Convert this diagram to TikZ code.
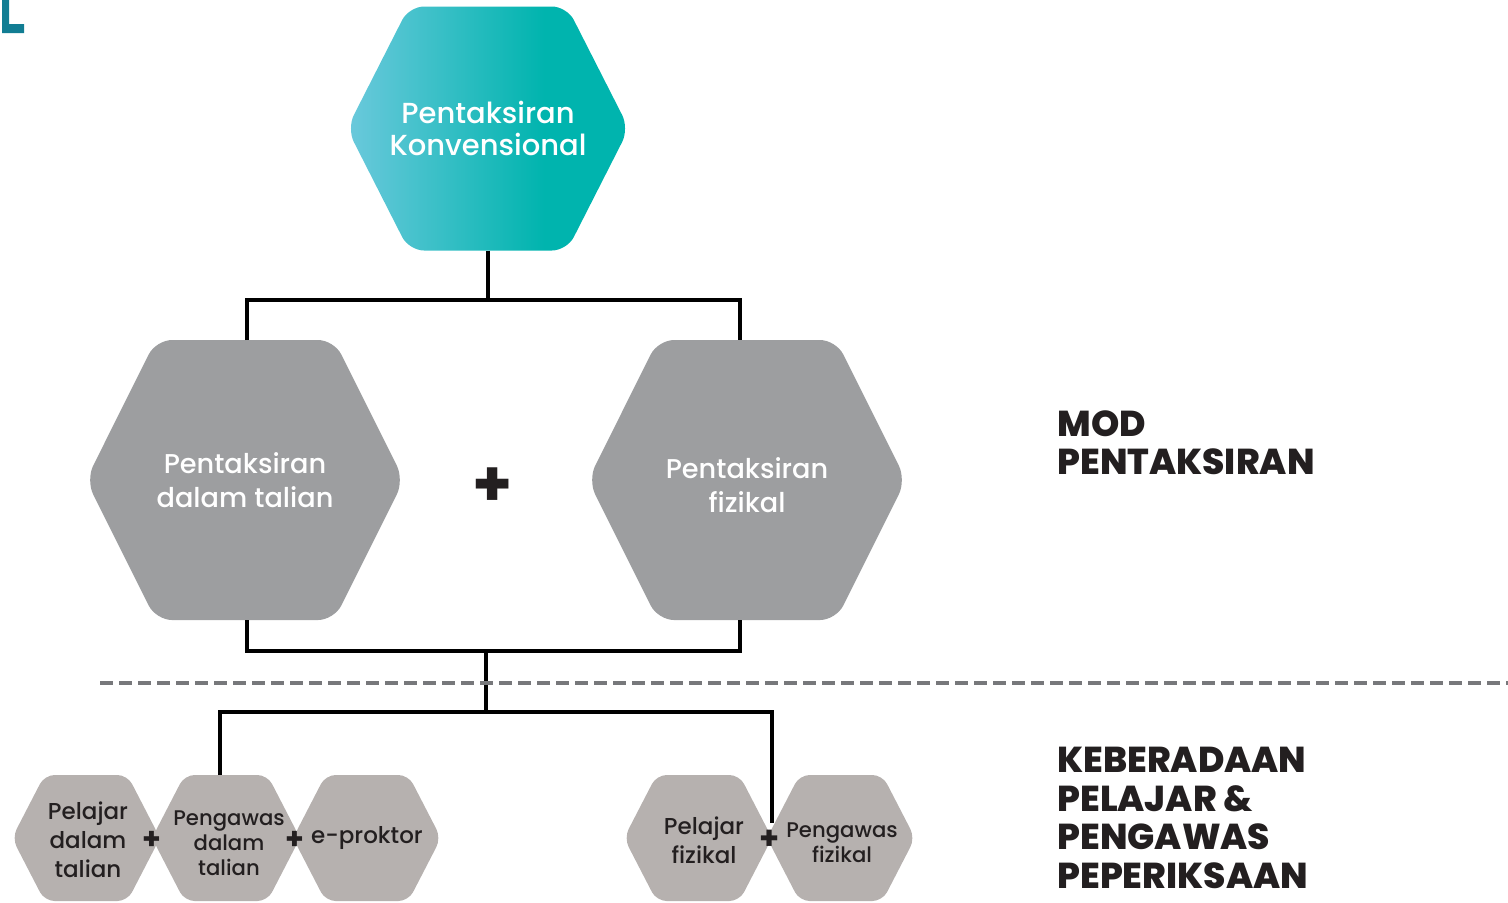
\documentclass[tikz,border=0pt]{standalone}
\usepackage{fontspec}
\setmainfont{Poppins}
\IfFontExistsTF{Poppins Medium}
  {\newfontfamily\hexfont{Poppins Medium}}
  {\newfontfamily\hexfont{Poppins}[FakeBold=0.4]}
\IfFontExistsTF{Poppins ExtraBold}
  {\newfontfamily\headfont{Poppins ExtraBold}}
  {\newfontfamily\headfont{Poppins}[UprightFont=*, BoldFont=*, FakeBold=1.2]}
\usetikzlibrary{calc}

\definecolor{tealA}{HTML}{6BC9DC}
\definecolor{tealB}{HTML}{00B4AE}
\definecolor{hexgray}{HTML}{9D9EA0}
\definecolor{hexwarm}{HTML}{B6B1AF}
\definecolor{ink}{HTML}{231F20}
\definecolor{dashgray}{HTML}{77787B}
\definecolor{marker}{HTML}{117D93}

\pgfdeclarehorizontalshading{tealfade}{100bp}{color(0bp)=(tealA); color(25bp)=(tealA); color(60bp)=(tealB); color(100bp)=(tealB)}

% hexagon with flat top and bottom: a named shape node and a named text node
% #1 name, #2 cx, #3 cy, #4 half width, #5 half height, #6 fill options, #7 text options, #8 text
\newcommand\hexcell[8]{%
  \path[#6] ({#2},{#3-#5}) -- ({#2-0.56*#4},{#3-#5}) -- ({#2-#4},{#3})
    -- ({#2-0.56*#4},{#3+#5}) -- ({#2+0.56*#4},{#3+#5}) -- ({#2+#4},{#3})
    -- ({#2+0.56*#4},{#3-#5}) -- cycle;
  \node[hexbox, minimum width={#4*1pt}, minimum height={#5*1pt}] (#1) at (#2,#3) {};
  \node[hexlabel, #7] (#1-text) at (#1.center) {#8};
}

\tikzset{
  x=0.5pt, y=-0.5pt,
  hexbox/.style={inner sep=0pt, outer sep=0pt},
  hexlabel/.style={inner sep=0pt, align=center},
  toptext/.style={text=white, font=\hexfont\fontsize{14.5}{16}\selectfont},
  bigtext/.style={text=white, font=\hexfont\fontsize{13.6}{17}\selectfont},
  smalltext/.style={text=ink, font=\hexfont\fontsize{11.5}{14.5}\selectfont},
  tinytext/.style={text=ink, font=\hexfont\fontsize{10.6}{12.5}\selectfont},
  conn/.style={draw=black, line width=2.25pt},
  plussign/.style={text=ink, inner sep=0pt, font=\bfseries\fontsize{#1}{#1}\selectfont},
  heading/.style={text=ink, anchor=base west, align=left, inner sep=0pt,
    font=\headfont\fontsize{18}{#1}\selectfont},
}

\begin{document}
\begin{tikzpicture}
\useasboundingbox (0,0) rectangle (1508,902);

% corner marker
\fill[marker] (2,0) -- (9,0) -- (9,24) -- (24,24) -- (24,33) -- (2,33) -- cycle;

% hexagons
\hexcell{top}{488}{128.5}{141}{122}{shade, shading=tealfade, rounded corners=7.5pt}{toptext}{Pentaksiran\\Konvensional}
\hexcell{lhex}{245}{480}{159}{140}{fill=hexgray, rounded corners=8pt}{bigtext}{Pentaksiran\\dalam talian}
\hexcell{rhex}{747}{480}{159}{140}{fill=hexgray, rounded corners=8pt}{bigtext, yshift=-2.5pt}{Pentaksiran\\fizikal}

\hexcell{s1}{86}{838}{74}{63}{fill=hexwarm, rounded corners=5pt}{smalltext, xshift=1pt, yshift=-1pt}{Pelajar\\dalam\\talian}
\hexcell{s2}{226}{838}{74}{63}{fill=hexwarm, rounded corners=5pt}{tinytext, xshift=1.5pt, yshift=-2.5pt}{Pengawas\\dalam\\talian}
\hexcell{s3}{367}{838}{74}{63}{fill=hexwarm, rounded corners=5pt}{smalltext}{e-proktor}
\hexcell{s4}{698}{838}{74}{63}{fill=hexwarm, rounded corners=5pt}{smalltext, xshift=3pt, yshift=-1pt}{Pelajar\\fizikal}
\hexcell{s5}{841}{838}{74}{63}{fill=hexwarm, rounded corners=5pt}{tinytext, xshift=0.5pt, yshift=-2.5pt}{Pengawas\\fizikal}

% plus signs
\node[plussign=32] (pmain) at (493,487) {+};
\node[plussign=15] (pa) at (152,840) {+};
\node[plussign=15] (pb) at (295,840) {+};
\node[plussign=16] (pc) at (770,840) {+};

% connectors
\coordinate (j2) at (486,650);
\coordinate (j3) at (486,713);
\draw[conn] (top.south) -- ++(0,51);
\draw[conn] ($(lhex.north)+(2,0)$) -- ++(0,-40) -| ($(rhex.north)+(-7,0)$);
\draw[conn] ($(lhex.south)+(2,0)$) -- ++(0,31) -| ($(rhex.south)+(-7,0)$);
\draw[conn] (j2) -- (j3);
\draw[conn] ($(s2.north)+(-6,0)$) -- ++(0,-63) -| ($(s4.east)+(0,-15)$);

% divider
\draw[dashgray, line width=2pt, dash pattern=on 6.5pt off 3pt] (100,683) -- (1508,683);

% headings
\node[heading=18.6] (modhead) at (1057,474) {MOD\\PENTAKSIRAN};
\node[heading=19.2] (prhead) at (1057,888) {KEBERADAAN\\PELAJAR \&\\PENGAWAS\\PEPERIKSAAN};
\end{tikzpicture}
\end{document}
